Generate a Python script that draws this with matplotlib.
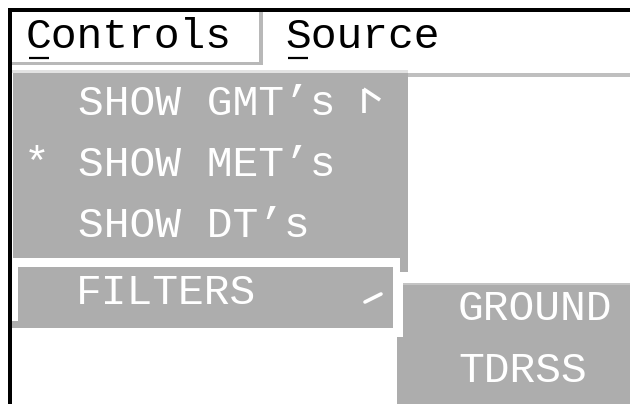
import matplotlib.pyplot as plt
from matplotlib.patches import Rectangle, Polygon

# menu contents
menubar_labels = ["Controls", "Source"]
menu_items = ["SHOW GMT\u2019s", "SHOW MET\u2019s", "SHOW DT\u2019s"]
checked_item = 1
cascade_label = "FILTERS"
submenu_items = ["GROUND", "TDRSS"]

GREY = "#adadad"
FONT = "Liberation Mono"
FS = 31

fig = plt.figure(figsize=(6.3, 4.04), dpi=100)
ax = fig.add_axes([0, 0, 1, 1])
ax.set_xlim(0, 630)
ax.set_ylim(404, 0)
ax.axis("off")


def box(x0, y0, x1, y1, color):
    ax.add_patch(Rectangle((x0, y0), x1 - x0, y1 - y0, facecolor=color,
                           edgecolor="none"))


# window frame
box(8, 8, 630, 12, "black")
box(8, 8, 12, 404, "black")

# menubar: Controls button bevel
box(259, 12, 263, 65, "#b8b8b8")
box(12, 62, 263, 65, "#b8b8b8")

# menubar labels with mnemonic underline
bar_x = [26, 285]
for lab, x in zip(menubar_labels, bar_x):
    ax.text(x, 48, lab, family=FONT, fontsize=FS, color="black",
            ha="left", va="baseline")
    ax.plot([x + 3, x + 23], [57.5, 57.5], color="black", lw=1.6,
            solid_capstyle="butt")

# pulldown menu panel
box(12, 70, 408, 72.5, "#e2e2e2")
box(408, 73, 630, 77, "#bfbfbf")
ax.add_patch(Polygon([(13, 73), (408, 73), (408, 272), (400, 272),
                      (400, 258), (13, 258)], closed=True,
                     facecolor=GREY, edgecolor="none"))

for i, item in enumerate(menu_items):
    y = 115 + i * 61
    ax.text(78, y, item, family=FONT, fontsize=FS, color="white",
            ha="left", va="baseline")
    if i == checked_item:
        ax.text(24, y, "*", family=FONT, fontsize=FS, color="white",
                ha="left", va="baseline")

# pointer next to first item
ax.plot([363.5, 363.5], [113, 89], color="white", lw=2.6,
        solid_capstyle="butt")
ax.plot([363.5, 380], [89, 100], color="white", lw=2.6,
        solid_capstyle="butt")

# cascade entry
ax.add_patch(Polygon([(18, 267), (393, 267), (393, 328), (12, 328),
                      (12, 321), (18, 321)], closed=True,
                     facecolor=GREY, edgecolor="none"))
ax.text(76, 304, cascade_label, family=FONT, fontsize=FS, color="white",
        ha="left", va="baseline")
ax.plot([365, 381], [302, 294], color="white", lw=2.6,
        solid_capstyle="round")

# submenu
ax.add_patch(Polygon([(403, 283), (630, 283), (630, 404), (397, 404),
                      (397, 337), (403, 337)], closed=True,
                     facecolor=GREY, edgecolor="none"))
box(403, 283, 630, 285, "#c4c4c4")
sub_y = [320, 382]
for item, y in zip(submenu_items, sub_y):
    ax.text(458, y, item, family=FONT, fontsize=FS, color="white",
            ha="left", va="baseline")

fig.savefig("out.png", dpi=100)
